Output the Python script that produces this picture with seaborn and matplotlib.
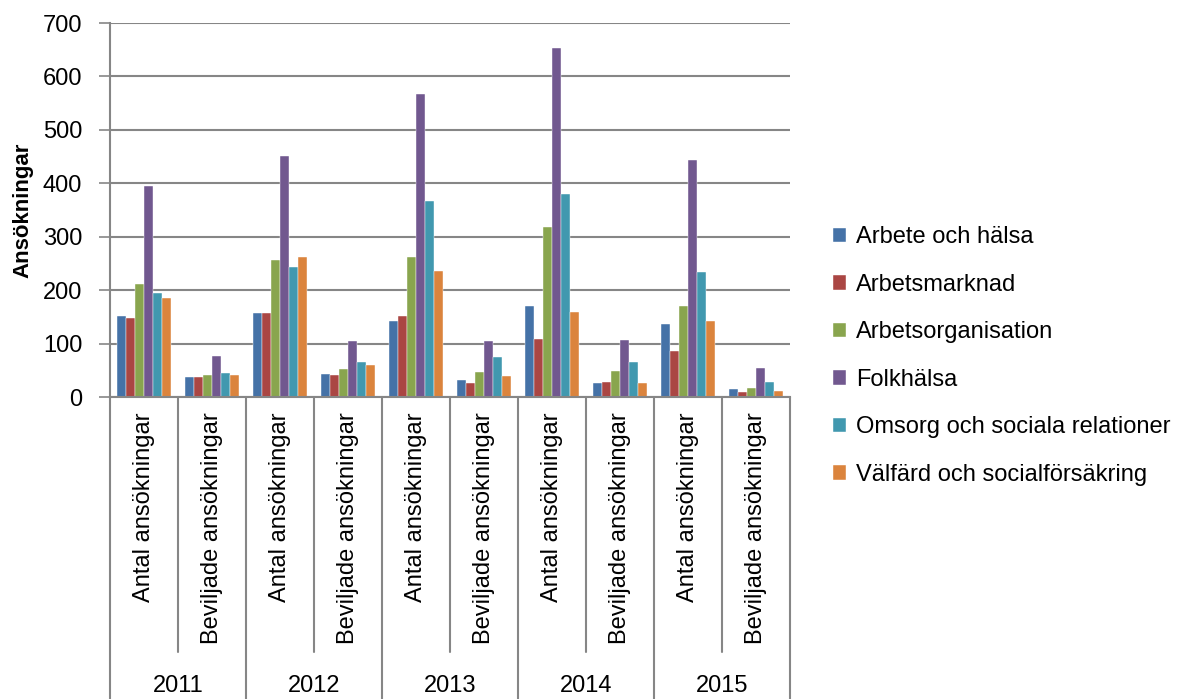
import matplotlib
matplotlib.use("Agg")

import matplotlib.pyplot as plt
import matplotlib.transforms as mtransforms
import pandas as pd
import seaborn as sns

# ─────────────────────────────────────────────────────────────────────────────
# DATA
# ─────────────────────────────────────────────────────────────────────────────

years    = ["2011", "2012", "2013", "2014", "2015"]
measures = ["Antal ansökningar", "Beviljade ansökningar"]
areas    = [
    "Arbete och hälsa",
    "Arbetsmarknad",
    "Arbetsorganisation",
    "Folkhälsa",
    "Omsorg och sociala relationer",
    "Välfärd och socialförsäkring",
]

# one value per (year, measure), year-major: 2011 Antal, 2011 Beviljade, ...
arbete_och_halsa   = [151, 38, 157, 43, 142, 31, 171, 27, 136, 15]
arbetsmarknad      = [148, 38, 157, 41, 152, 27, 108, 29, 87, 10]
arbetsorganisation = [212, 42, 256, 52, 262, 47, 319, 48, 170, 17]
folkhalsa          = [395, 77, 451, 105, 568, 105, 653, 106, 444, 54]
omsorg             = [194, 45, 243, 65, 366, 75, 380, 65, 234, 28]
valfard            = [186, 41, 262, 59, 235, 40, 160, 27, 143, 11]

series = [arbete_och_halsa, arbetsmarknad, arbetsorganisation,
          folkhalsa, omsorg, valfard]

colors = ["#4572A7", "#AA4643", "#89A54E", "#71588F", "#4198AF", "#DB843D"]

# long-form table for seaborn
keys = [f"{y}|{m}" for y in years for m in measures]
rows = []
for area, vals in zip(areas, series):
    for k, v in zip(keys, vals):
        rows.append({"slot": k, "area": area, "value": v})
df = pd.DataFrame(rows)

# ─────────────────────────────────────────────────────────────────────────────
# PLOT
# ─────────────────────────────────────────────────────────────────────────────

sns.set_style("white")
plt.rcParams["font.family"] = ["Liberation Sans", "DejaVu Sans"]
plt.rcParams["text.color"] = "black"
plt.rcParams["ytick.labelcolor"] = "black"
FS = 17
GRAY = "#868686"

fig = plt.figure(figsize=(11.78, 6.99), dpi=100)
ax = fig.add_axes([110 / 1178, 1 - 397 / 699, 680 / 1178, 374 / 699])

sns.barplot(
    data=df, x="slot", y="value", hue="area", order=keys, hue_order=areas,
    palette=colors, saturation=1, width=0.8, edgecolor="white",
    linewidth=0.3, ax=ax,
)

ax.set_ylim(0, 700)
ax.set_xlim(-0.5, len(keys) - 0.5)
ax.set_yticks(range(0, 701, 100))
ax.tick_params(axis="y", labelsize=FS, length=8, width=1.2, color=GRAY,
               direction="out", pad=12, left=True, labelcolor="black")
ax.yaxis.grid(True, color=GRAY, linewidth=1.5)
ax.set_axisbelow(True)
ax.set_xticks([])
ax.set_xlabel("")
ax.set_ylabel("Ansökningar", fontsize=16, fontweight="bold", labelpad=7,
              color="black")

for side in ["top", "right"]:
    ax.spines[side].set_visible(False)
for side in ["left", "bottom"]:
    ax.spines[side].set_color(GRAY)
    ax.spines[side].set_linewidth(1.5)

# multi-level category axis
trans = mtransforms.blended_transform_factory(ax.transData, ax.transAxes)
h_ax = 374.0
inner_bottom = -(652 - 397) / h_ax
outer_bottom = -(699 - 397) / h_ax
for i in range(len(keys) + 1):
    x = i - 0.5
    y_end = outer_bottom if i % 2 == 0 else inner_bottom
    ax.plot([x, x], [0, y_end], color=GRAY, linewidth=1.5,
            transform=trans, clip_on=False)

for i, k in enumerate(keys):
    measure = k.split("|")[1]
    ax.text(i, -(412 - 397) / h_ax, measure, rotation=90, ha="center",
            va="top", fontsize=FS, transform=trans)

for j, y in enumerate(years):
    ax.text(2 * j + 0.5, -(686 - 397) / h_ax, y, ha="center", va="center",
            fontsize=FS, transform=trans)

# legend
handles, labels = ax.get_legend_handles_labels()
ax.legend_.remove()
fig.legend(
    handles, labels, loc="center left", bbox_to_anchor=(824 / 1178, 1 - 356 / 699),
    frameon=False, fontsize=FS, handlelength=0.55, handleheight=0.55,
    handletextpad=0.4, labelspacing=1.08, borderaxespad=0,
)

fig.savefig("out.png", dpi=100)
plt.close(fig)
